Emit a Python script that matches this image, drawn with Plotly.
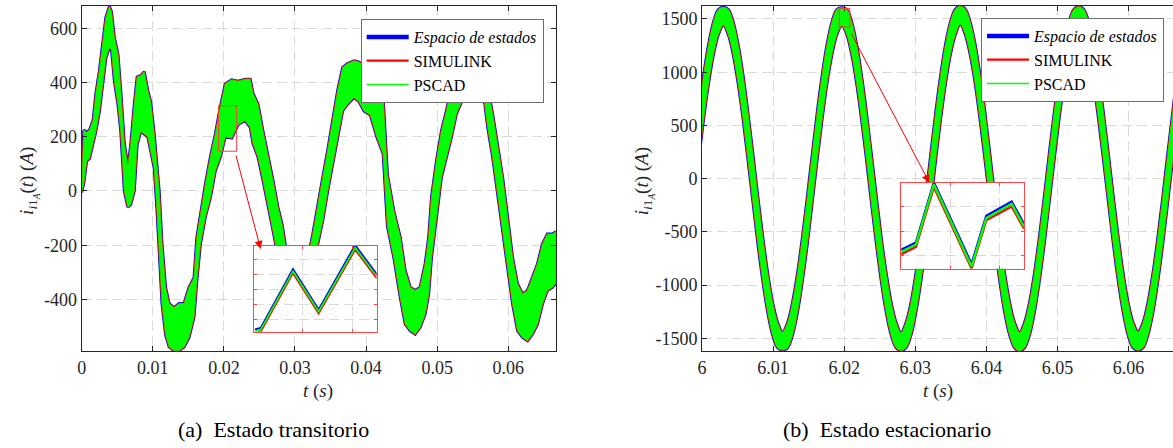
import plotly.graph_objects as go

# ---------------- data ----------------
# (a) transient: upper / lower edge of the switching band
L_T = [0.0000, 0.0003, 0.0007, 0.0011, 0.0016, 0.0020, 0.0025, 0.0030, 0.0034, 0.0039,
       0.0042, 0.0046, 0.0051, 0.0055, 0.0060, 0.0065, 0.0069, 0.0074, 0.0078, 0.0083,
       0.0088, 0.0093, 0.0097, 0.0102, 0.0106, 0.0109, 0.0113, 0.0118, 0.0123, 0.0130,
       0.0137, 0.0144, 0.0151, 0.0158, 0.0162, 0.0167, 0.0174, 0.0181, 0.0188, 0.0195,
       0.0202, 0.0211, 0.0220, 0.0230, 0.0237, 0.0241, 0.0248, 0.0255, 0.0262, 0.0269,
       0.0276, 0.0282, 0.0290, 0.0300, 0.0310, 0.0318, 0.0325, 0.0332, 0.0339, 0.0346,
       0.0353, 0.0360, 0.0367, 0.0374, 0.0383, 0.0390, 0.0397, 0.0406, 0.0415, 0.0424,
       0.0430, 0.0439, 0.0448, 0.0455, 0.0462, 0.0469, 0.0476, 0.0483, 0.0488, 0.0492,
       0.0499, 0.0506, 0.0513, 0.0520, 0.0527, 0.0541, 0.0550, 0.0560, 0.0567, 0.0571,
       0.0578, 0.0585, 0.0592, 0.0599, 0.0606, 0.0613, 0.0620, 0.0627, 0.0634, 0.0641,
       0.0648, 0.0655, 0.0662, 0.0667]
L_UP = [0, 225, 215, 225, 260, 360, 445, 555, 640, 680,
        660, 565, 505, 370, 175, 90, 170, 320, 420, 425,
        440, 370, 330, 210, 75, 0, -195, -355, -415, -430,
        -415, -415, -355, -320, -170, -85, 25, 125, 210, 310,
        395, 410, 405, 412, 412, 360, 320, 220, 135, 40,
        -60, -125, -260, -340, -330, -250, -160, -50, 50, 150,
        260, 370, 455, 470, 480, 475, 460, 420, 400, 346,
        60, -73, -171, -294, -355, -367, -355, -269, -171, -23,
        112, 222, 296, 383, 430, 450, 455, 440, 420, 383,
        284, 173, 51, -97, -245, -343, -380, -367, -318, -269,
        -196, -159, -159, -150]
L_LO = [-5, 30, 110, 120, 170, 220, 295, 395, 490, 530,
        520, 405, 320, 220, 0, -60, -50, 0, 170, 220,
        210, 200, 150, 85, -75, -210, -415, -530, -575, -588,
        -588, -575, -540, -465, -330, -195, -95, -25, 75, 125,
        200, 195, 245, 260, 235, 175, 125, 40, -50, -145,
        -240, -320, -440, -510, -500, -420, -330, -195, -110, 0,
        100, 200, 295, 320, 345, 330, 295, 280, 200, 137,
        -130, -245, -392, -491, -515, -528, -503, -454, -380, -245,
        -97, 51, 124, 198, 284, 370, 370, 358, 321, 235,
        124, 1, -146, -282, -417, -515, -540, -552, -528, -491,
        -417, -367, -355, -340]

# (b) steady state: upper / lower edge of the switching band
R_T = [5.99953, 6.00022, 6.00092, 6.00161, 6.00231, 6.00300, 6.00369, 6.00439, 6.00508, 6.00578,
       6.00647, 6.00717, 6.00786, 6.00856, 6.00925, 6.00994, 6.01064, 6.01133, 6.01203, 6.01272,
       6.01342, 6.01411, 6.01481, 6.01550, 6.01619, 6.01689, 6.01758, 6.01828, 6.01897, 6.01967,
       6.02036, 6.02106, 6.02175, 6.02244, 6.02314, 6.02383, 6.02453, 6.02522, 6.02592, 6.02661,
       6.02731, 6.02800, 6.02869, 6.02939, 6.03008, 6.03078, 6.03147, 6.03217, 6.03286, 6.03356,
       6.03425, 6.03494, 6.03564, 6.03633, 6.03703, 6.03772, 6.03842, 6.03911, 6.03981, 6.04050,
       6.04119, 6.04189, 6.04258, 6.04328, 6.04397, 6.04467, 6.04536, 6.04606, 6.04675, 6.04744,
       6.04814, 6.04883, 6.04953, 6.05022, 6.05092, 6.05161, 6.05231, 6.05300, 6.05369, 6.05439,
       6.05508, 6.05578, 6.05647, 6.05717, 6.05786, 6.05856, 6.05925, 6.05994, 6.06064, 6.06133,
       6.06203, 6.06272, 6.06342, 6.06411, 6.06481, 6.06550, 6.06619, 6.06689]
R_UP = [613, 966, 1259, 1471, 1589, 1610, 1589, 1471, 1259, 966, 613, 224, -175, -557, -895, -1167, -1354, -1443, -1354, -1167, -895, -557, -175, 224,
        613, 966, 1259, 1471, 1589, 1605, 1589, 1471, 1259, 966, 613, 224, -175, -557, -895, -1167, -1354, -1448, -1354, -1167, -895, -557, -175, 224,
        613, 966, 1259, 1471, 1592, 1620, 1592, 1471, 1259, 966, 613, 224, -175, -557, -895, -1167, -1354, -1445, -1354, -1167, -895, -557, -175, 224,
        613, 966, 1259, 1471, 1590, 1615, 1590, 1471, 1259, 966, 613, 224, -175, -557, -895, -1167, -1354, -1440, -1354, -1167, -895, -557, -175, 224,
        613, 966]
R_LO = [175, 557, 895, 1167, 1354, 1443, 1354, 1167, 895, 557, 175, -224, -613, -966, -1259, -1471, -1589, -1610, -1589, -1471, -1259, -966, -613, -224,
        175, 557, 895, 1167, 1354, 1440, 1354, 1167, 895, 557, 175, -224, -613, -966, -1259, -1471, -1589, -1615, -1589, -1471, -1259, -966, -613, -224,
        175, 557, 895, 1167, 1354, 1450, 1354, 1167, 895, 557, 175, -224, -613, -966, -1259, -1471, -1589, -1618, -1589, -1471, -1259, -966, -613, -224,
        175, 557, 895, 1167, 1354, 1445, 1354, 1167, 895, 557, 175, -224, -613, -966, -1259, -1471, -1589, -1612, -1589, -1471, -1259, -966, -613, -224,
        175, 557]

# zoom insets (three simulators)
LI_T = [0.019268, 0.019386, 0.020059, 0.020593, 0.021352, 0.021800]
LI_BLUE = [151, 154, 269, 190, 316, 259]
LI_RED = [143, 146, 261, 182, 307, 251]
LI_GREEN = [147, 150, 265, 186, 311, 255]

RI_T = [6.01930, 6.01948, 6.01970, 6.02016, 6.02034, 6.02065, 6.02080]
RI_BLUE = [1462, 1477, 1600, 1433, 1532, 1561, 1515]
RI_RED = [1453, 1468, 1591, 1424, 1523, 1551, 1506]
RI_GREEN = [1458, 1473, 1596, 1428, 1527, 1556, 1510]

SERIES = ["<i>Espacio de estados</i>", "SIMULINK", "PSCAD"]
COLORS = ["#0000ff", "#ff0000", "#00ff00"]

LEFT_XTICKS = [0, 0.01, 0.02, 0.03, 0.04, 0.05, 0.06]
LEFT_XTEXT = ["0", "0.01", "0.02", "0.03", "0.04", "0.05", "0.06"]
LEFT_YTICKS = [-400, -200, 0, 200, 400, 600]
RIGHT_XTICKS = [6, 6.01, 6.02, 6.03, 6.04, 6.05, 6.06]
RIGHT_XTEXT = ["6", "6.01", "6.02", "6.03", "6.04", "6.05", "6.06"]
RIGHT_YTICKS = [-1500, -1000, -500, 0, 500, 1000, 1500]

# ---------------- figure ----------------
W, H = 1173, 448
FONT = "Liberation Serif"
AX = "#262626"
GRID = "rgb(218,218,218)"

def px(x):
    return x / W

def py(y):
    return 1 - y / H

fig = go.Figure()

def band(t, up, lo, xa, ya, shape):
    xs = list(t) + list(t)[::-1]
    ys = list(up) + list(lo)[::-1]
    for col, lw in zip(COLORS, [3.0, 1.8, 0.6]):
        fig.add_trace(go.Scatter(x=xs, y=ys, mode="lines", fill="toself",
                                 fillcolor=col, line=dict(color=col, width=lw, shape=shape),
                                 xaxis=xa, yaxis=ya, showlegend=False, hoverinfo="skip"))

band(L_T, L_UP, L_LO, "x", "y", "linear")
band(R_T, R_UP, R_LO, "x2", "y2", "spline")

for vals, col in zip([LI_BLUE, LI_RED, LI_GREEN], COLORS):
    fig.add_trace(go.Scatter(x=LI_T, y=vals, mode="lines", line=dict(color=col, width=1.8),
                             xaxis="x3", yaxis="y3", showlegend=False, hoverinfo="skip"))
for vals, col in zip([RI_BLUE, RI_RED, RI_GREEN], COLORS):
    fig.add_trace(go.Scatter(x=RI_T, y=vals, mode="lines", line=dict(color=col, width=2.4),
                             xaxis="x4", yaxis="y4", showlegend=False, hoverinfo="skip"))

# legend entries
for lg, xa, ya in [("legend", "x", "y"), ("legend2", "x2", "y2")]:
    for name, col, lw in zip(SERIES, COLORS, [4.5, 2.2, 1.6]):
        fig.add_trace(go.Scatter(x=[None], y=[None], mode="lines", name=name,
                                 line=dict(color=col, width=lw), xaxis=xa, yaxis=ya,
                                 legend=lg, showlegend=True))

tickfont = dict(family=FONT, size=18, color=AX)
main_ax = dict(showline=True, linecolor=AX, linewidth=1, mirror="ticks", ticks="inside",
               ticklen=5, tickcolor=AX, showgrid=True, gridcolor=GRID, griddash="10px,5px",
               gridwidth=1, zeroline=False, tickfont=tickfont)
inset_ax = dict(showline=True, linecolor="rgb(255,70,70)", linewidth=1, mirror="ticks",
                ticks="inside", ticklen=3, tickcolor="rgb(255,70,70)", showgrid=True,
                gridcolor=GRID, griddash="10px,5px", zeroline=False, showticklabels=False)
legend_style = dict(xanchor="right", yanchor="top", bgcolor="white",
                    bordercolor="rgb(110,110,110)", borderwidth=1, itemwidth=42,
                    font=dict(family=FONT, size=16, color="black"), tracegroupgap=0)

fig.update_layout(
    width=W, height=H, margin=dict(l=0, r=0, t=0, b=0),
    paper_bgcolor="white", plot_bgcolor="white",
    xaxis=dict(domain=[px(77), px(553.3)], range=[0, 0.0667], anchor="y",
               tickvals=LEFT_XTICKS, ticktext=LEFT_XTEXT, **main_ax),
    yaxis=dict(domain=[py(351), py(6)], range=[-590, 682], anchor="x",
               tickvals=LEFT_YTICKS, ticktext=[str(v) for v in LEFT_YTICKS], **main_ax),
    xaxis2=dict(domain=[px(700), 1.0], range=[6, 6.06625], anchor="y2",
                tickvals=RIGHT_XTICKS, ticktext=RIGHT_XTEXT, **main_ax),
    yaxis2=dict(domain=[py(351), py(6)], range=[-1620, 1622], anchor="x2",
                tickvals=RIGHT_YTICKS, ticktext=[str(v) for v in RIGHT_YTICKS],
                **{**main_ax, "mirror": False}),
    xaxis3=dict(domain=[px(250), px(373.3)], range=[0.019247, 0.0218], anchor="y3",
                tickvals=[0.020262, 0.021297], **inset_ax),
    yaxis3=dict(domain=[py(331.7), py(245.7)], range=[146.5, 314.8], anchor="x3",
                tickvals=[171, 200, 229, 258, 287], **inset_ax),
    xaxis4=dict(domain=[px(900), px(1023.3)], range=[6.0193, 6.0208], anchor="y4",
                tickvals=[6.01990, 6.02050], **inset_ax),
    yaxis4=dict(domain=[py(268.7), py(183)], range=[1423.4, 1599], anchor="x4",
                tickvals=[1450, 1500, 1550], **inset_ax),
    legend=dict(x=px(541), y=py(19), **legend_style),
    legend2=dict(x=px(1164), y=py(18), **legend_style),
    showlegend=True,
)

# source rectangles of the zooms
fig.add_shape(type="rect", xref="x", yref="y", x0=0.019247, x1=0.0218, y0=146.5, y1=314.8,
              line=dict(color="rgb(255,60,60)", width=1))
fig.add_shape(type="rect", xref="x2", yref="y2", x0=6.0193, x1=6.0208, y0=1423.4, y1=1599,
              line=dict(color="rgb(255,60,60)", width=1))

# arrows
fig.add_annotation(x=px(256.7), y=py(249), xref="paper", yref="paper", ax=-25, ay=-95,
                   showarrow=True, arrowhead=2, arrowsize=1.6, arrowwidth=1,
                   arrowcolor="#ff0000", text="")
fig.add_annotation(x=px(928.3), y=py(182.7), xref="paper", yref="paper", ax=-79, ay=-151,
                   showarrow=True, arrowhead=2, arrowsize=1.6, arrowwidth=1,
                   arrowcolor="#ff0000", text="")

ylab = "<i>i</i><sub><i>i</i>1<sub><i>A</i></sub></sub>(<i>t</i>) (<i>A</i>)"
lab_font = dict(family=FONT, size=19, color=AX)
for xpix in (24, 642):
    fig.add_annotation(x=px(xpix), y=py(181), xref="paper", yref="paper", text=ylab,
                       textangle=-90, showarrow=False, font=lab_font,
                       xanchor="center", yanchor="middle")
for xpix in (314, 937):
    fig.add_annotation(x=px(xpix), y=py(391), xref="paper", yref="paper",
                       text="<i>t</i> (<i>s</i>)", showarrow=False, font=lab_font,
                       xanchor="center", yanchor="middle")
cap_font = dict(family=FONT, size=22, color="black")
fig.add_annotation(x=px(270), y=py(429), xref="paper", yref="paper",
                   text="(a)  Estado transitorio", showarrow=False, font=cap_font,
                   xanchor="center", yanchor="middle")
fig.add_annotation(x=px(886), y=py(429), xref="paper", yref="paper",
                   text="(b)  Estado estacionario", showarrow=False, font=cap_font,
                   xanchor="center", yanchor="middle")

fig.write_html("out.html", config={"displayModeBar": False},
               post_script="document.body.style.margin='0px';document.body.style.padding='0px';")
